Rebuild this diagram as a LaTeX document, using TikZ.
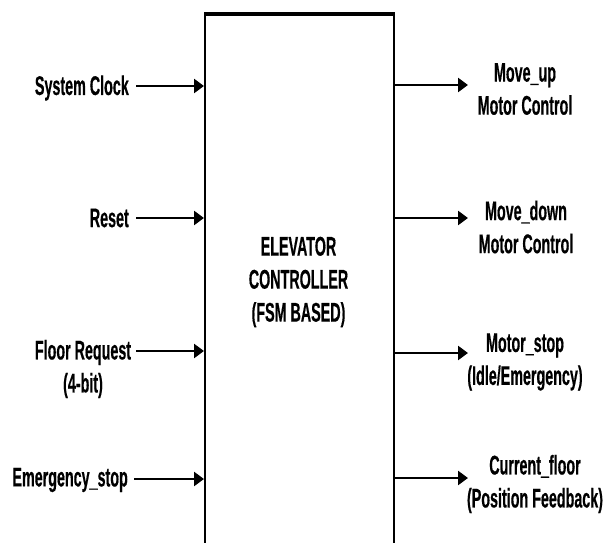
\documentclass[tikz,border=0pt]{standalone}
\usepackage{fontspec}
\setmainfont{Liberation Sans}[FakeStretch=0.53, BoldFeatures={FakeBold=0.4}]
\usepackage{tikz}
\usetikzlibrary{arrows.meta, positioning, calc}

\begin{document}
\begin{tikzpicture}[
    x=1pt, y=-1pt,
    lbl/.style={font=\bfseries\fontsize{27}{33}\selectfont, align=center,
                inner sep=0pt},
    sig/.style={-{Triangle[length=10pt, width=14pt]}, line width=2.7pt},
    block/.style={draw, line width=2pt, minimum width=189pt,
                  minimum height=560pt, anchor=north west, inner sep=0pt}
  ]
    \useasboundingbox (0,0) rectangle (611,543);
    \clip (0,0) rectangle (611,543);

    % Controller block (runs off the bottom edge)
    \node[block] (fsm) at (204,14) {};
    \draw[line width=3pt] (fsm.north west) -- (fsm.north east);
    \node[lbl] (title) at (298.5,282)
      {ELEVATOR\\CONTROLLER\\(FSM BASED)};

    % Inputs
    \coordinate (clkT) at (136,86);
    \node[lbl, anchor=east] (clk) at (129,88) {System Clock};

    \coordinate (rstT) at (136,218);
    \node[lbl, anchor=east] (rst) at (129,218) {Reset};

    \coordinate (reqT) at (136,351);
    \node[lbl] (req) at (83,369) {Floor Request\\(4-bit)};

    \coordinate (emgT) at (134,479);
    \node[lbl, anchor=east] (emg) at (128,480) {Emergency\_stop};

    % Outputs
    \coordinate (upT) at (468,85);
    \node[lbl] (up) at (525,89) {Move\_up\\Motor Control};

    \coordinate (dnT) at (468,218);
    \node[lbl] (dn) at (526,227) {Move\_down\\Motor Control};

    \coordinate (stpT) at (468,353);
    \node[lbl] (stp) at (525,362) {Motor\_stop\\(Idle/Emergency)};

    \coordinate (flrT) at (468,478);
    \node[lbl] (flr) at (535,484) {Current\_floor\\(Position Feedback)};

    % Arrows
    \draw[sig] (clkT) -- (clkT -| fsm.west);
    \draw[sig] (rstT) -- (rstT -| fsm.west);
    \draw[sig] (reqT) -- (reqT -| fsm.west);
    \draw[sig] (emgT) -- (emgT -| fsm.west);
    \draw[sig] (upT -| fsm.east) -- (upT);
    \draw[sig] (dnT -| fsm.east) -- (dnT);
    \draw[sig] (stpT -| fsm.east) -- (stpT);
    \draw[sig] (flrT -| fsm.east) -- (flrT);
  \end{tikzpicture}
\end{document}
